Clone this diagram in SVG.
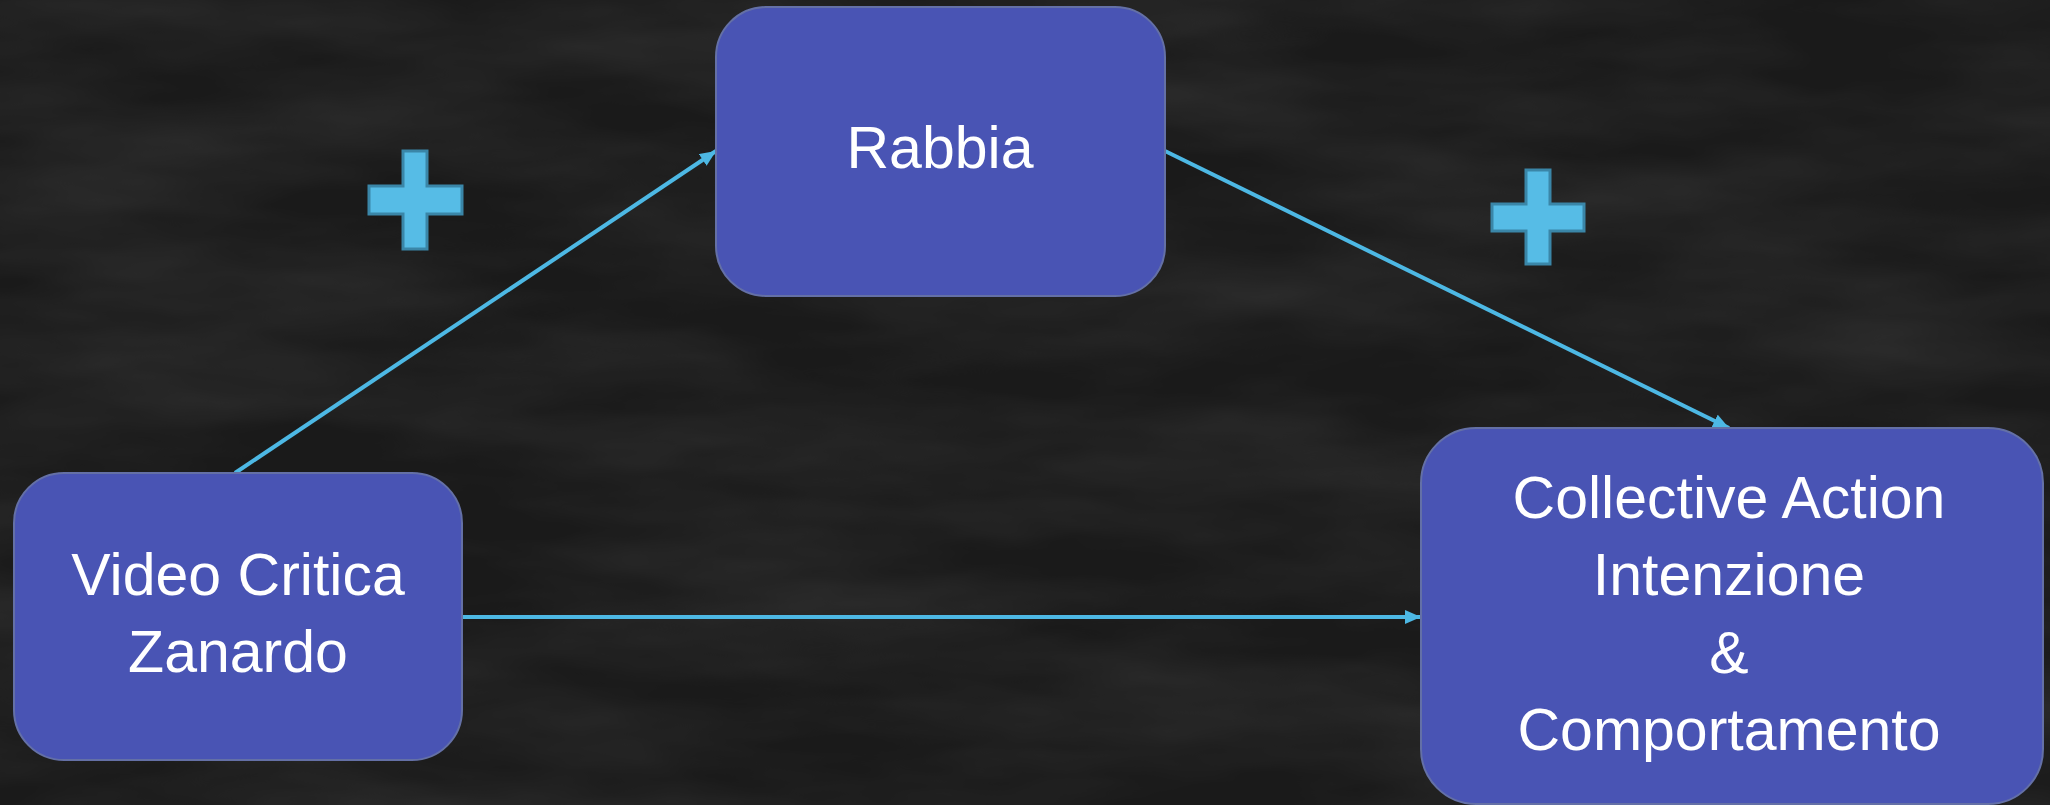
<svg xmlns="http://www.w3.org/2000/svg" width="2050" height="805" viewBox="0 0 2050 805">
  <style>
    .box { fill: #4954B4; stroke: #6470A6; stroke-width: 2; }
    .lbl { font-family: "Liberation Sans", Arial, sans-serif; font-size: 59px; fill: #FFFFFF; text-anchor: middle; }
    .conn { stroke: #4DB8E4; stroke-width: 4; fill: none; }
    .plus { fill: #56BCE6; stroke: #3A86A8; stroke-width: 3; stroke-linejoin: miter; }
  </style>
  <defs>
    <filter id="chalk" x="0" y="0" width="100%" height="100%">
      <feTurbulence type="fractalNoise" baseFrequency="0.003 0.012" numOctaves="4" seed="7"/>
      <feColorMatrix type="matrix" values="0 0 0 0 1  0 0 0 0 1  0 0 0 0 1  0.14 0 0 0 -0.045"/>
    </filter>
    <marker id="arr" markerUnits="userSpaceOnUse" markerWidth="18" markerHeight="16" refX="16" refY="7" orient="auto">
      <path d="M0,0 L16,7 L0,14 z" fill="#4DB8E4"/>
    </marker>
  </defs>

  <rect x="0" y="0" width="2050" height="805" fill="#1A1A1A"/>
  <rect x="0" y="0" width="2050" height="805" filter="url(#chalk)"/>

  <g id="connectors">
    <line class="conn" x1="235" y1="473" x2="716" y2="151" marker-end="url(#arr)"/>
    <line class="conn" x1="1165" y1="151" x2="1729" y2="428" marker-end="url(#arr)"/>
    <line class="conn" x1="462" y1="617" x2="1421" y2="617" marker-end="url(#arr)"/>
  </g>

  <g id="plus-1">
    <polygon class="plus" points="403,151 427,151 427,186 462,186 462,214 427,214 427,249 403,249 403,214 369,214 369,186 403,186"/>
  </g>
  <g id="plus-2">
    <polygon class="plus" points="1526,170 1550,170 1550,204 1584,204 1584,231 1550,231 1550,264 1526,264 1526,231 1492,231 1492,204 1526,204"/>
  </g>

  <g id="node-rabbia">
    <rect class="box" x="716" y="7" width="449" height="289" rx="50" ry="50"/>
    <text class="lbl" x="940" y="168">Rabbia</text>
  </g>

  <g id="node-video">
    <rect class="box" x="14" y="473" width="448" height="287" rx="50" ry="50"/>
    <text class="lbl" x="238" y="595">Video Critica</text>
    <text class="lbl" x="238" y="672">Zanardo</text>
  </g>

  <g id="node-collective">
    <rect class="box" x="1421" y="428" width="622" height="376" rx="55" ry="55"/>
    <text class="lbl" x="1729" y="518">Collective Action</text>
    <text class="lbl" x="1729" y="595">Intenzione</text>
    <text class="lbl" x="1729" y="673">&amp;</text>
    <text class="lbl" x="1729" y="750">Comportamento</text>
  </g>
</svg>
